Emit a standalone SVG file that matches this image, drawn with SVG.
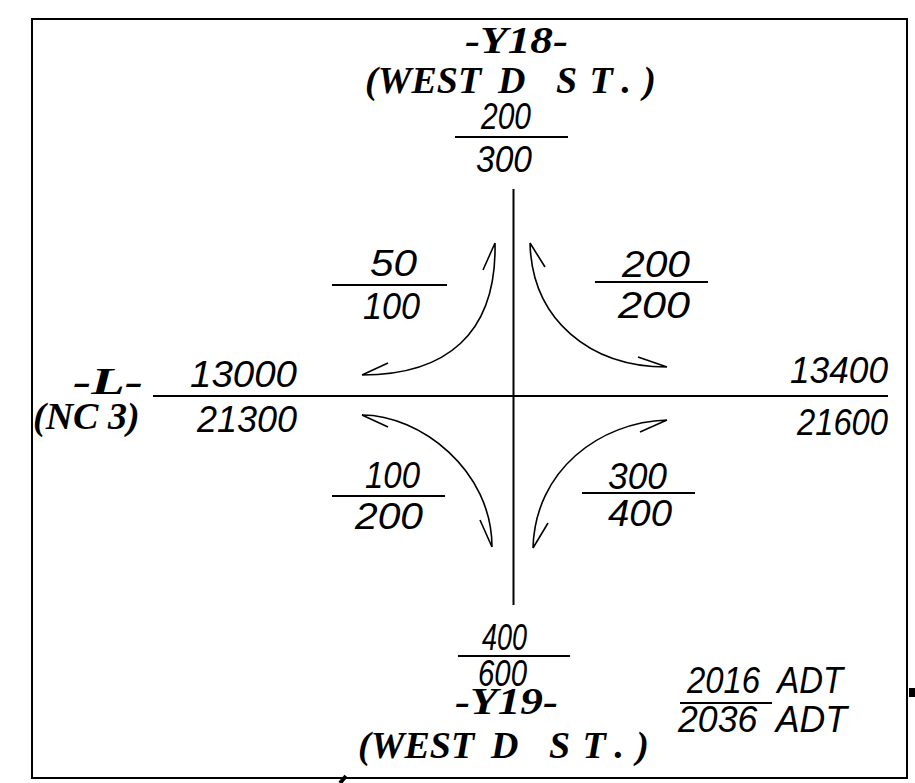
<svg xmlns="http://www.w3.org/2000/svg" width="915" height="783" viewBox="0 0 915 783">
<style>
.ln{stroke:#000;stroke-width:2;fill:none}
.arc{stroke:#000;stroke-width:1.6;fill:none}
.num{font-family:"Liberation Sans",Arial,sans-serif;font-style:italic;font-size:36px;fill:#000}
.rd{font-family:"Liberation Serif","Times New Roman",serif;font-style:italic;font-weight:bold;font-size:38px;fill:#000}
</style>
<rect x="0" y="0" width="915" height="783" fill="#fff"/>
<rect x="32" y="19" width="875" height="759" class="ln"/>
<g id="connectors">
<line x1="513.5" y1="189" x2="513.5" y2="605" class="ln"/>
<line x1="153" y1="396" x2="888" y2="396" class="ln"/>
<path class="arc" d="M495,243 C497,335 445,375 362,375 M495,243 L483,270 M362,375 L388,363"/>
<path class="arc" d="M530,243 C532,320 590,367 667,367 M530,243 L545,267 M667,367 L638,357"/>
<path class="arc" d="M362,415 C420,415 492,470 492,547 M362,415 L388,427 M492,547 L480,520"/>
<path class="arc" d="M667,420 C600,422 535,470 533,548 M667,420 L640,432 M533,548 L548,523"/>
</g>
<g id="north">
<text class="rd" x="465" y="53" textLength="103" lengthAdjust="spacingAndGlyphs">-Y18-</text>
<text class="rd" y="93"><tspan x="365">(WEST</tspan> <tspan x="498">D</tspan> <tspan x="556" textLength="100" lengthAdjust="spacing">ST.)</tspan></text>
<text class="num" x="481" y="129" textLength="50" lengthAdjust="spacingAndGlyphs">200</text>
<line x1="455" y1="137" x2="568" y2="137" class="ln"/>
<text class="num" x="476" y="172" textLength="56" lengthAdjust="spacingAndGlyphs">300</text>
</g>
<g id="nw">
<text class="num" x="370" y="276" textLength="47" lengthAdjust="spacingAndGlyphs">50</text>
<line x1="332" y1="285" x2="447" y2="285" class="ln"/>
<text class="num" x="363" y="319" textLength="57" lengthAdjust="spacingAndGlyphs">100</text>
</g>
<g id="ne">
<text class="num" x="622" y="277" textLength="68" lengthAdjust="spacingAndGlyphs">200</text>
<line x1="595" y1="282" x2="708" y2="282" class="ln"/>
<text class="num" x="618" y="318" textLength="72" lengthAdjust="spacingAndGlyphs">200</text>
</g>
<g id="west">
<text class="rd" x="73" y="394" textLength="70" lengthAdjust="spacingAndGlyphs">-L-</text>
<text class="rd" y="429"><tspan x="33">(NC</tspan> <tspan x="108">3)</tspan></text>
<text class="num" x="190" y="387" textLength="107" lengthAdjust="spacingAndGlyphs">13000</text>
<text class="num" x="197" y="432" textLength="100" lengthAdjust="spacingAndGlyphs">21300</text>
</g>
<g id="east">
<text class="num" x="790" y="383" textLength="98" lengthAdjust="spacingAndGlyphs">13400</text>
<text class="num" x="797" y="435" textLength="91" lengthAdjust="spacingAndGlyphs">21600</text>
</g>
<g id="sw">
<text class="num" x="365" y="488" textLength="55" lengthAdjust="spacingAndGlyphs">100</text>
<line x1="332" y1="496" x2="445" y2="496" class="ln"/>
<text class="num" x="355" y="529" textLength="68" lengthAdjust="spacingAndGlyphs">200</text>
</g>
<g id="se">
<text class="num" x="608" y="489" textLength="59" lengthAdjust="spacingAndGlyphs">300</text>
<line x1="582" y1="493" x2="695" y2="493" class="ln"/>
<text class="num" x="608" y="526" textLength="64" lengthAdjust="spacingAndGlyphs">400</text>
</g>
<g id="south">
<text class="num" x="482" y="650" textLength="45" lengthAdjust="spacingAndGlyphs">400</text>
<line x1="458" y1="656" x2="570" y2="656" class="ln"/>
<text class="num" x="478" y="686" textLength="49" lengthAdjust="spacingAndGlyphs">600</text>
<text class="rd" x="455" y="714" textLength="103" lengthAdjust="spacingAndGlyphs">-Y19-</text>
<text class="rd" y="758"><tspan x="358">(WEST</tspan> <tspan x="491">D</tspan> <tspan x="549" textLength="100" lengthAdjust="spacing">ST.)</tspan></text>
</g>
<g id="legend">
<text class="num" x="687" y="693" textLength="156" lengthAdjust="spacingAndGlyphs" style="white-space:pre">2016  ADT</text>
<line x1="680" y1="703" x2="772" y2="703" class="ln"/>
<text class="num" x="678" y="732" textLength="169" lengthAdjust="spacingAndGlyphs" style="white-space:pre">2036  ADT</text>
</g>
<rect x="909" y="688" width="6" height="9" fill="#000"/>
<line x1="340" y1="783" x2="346" y2="776" stroke="#000" stroke-width="4"/>
</svg>
